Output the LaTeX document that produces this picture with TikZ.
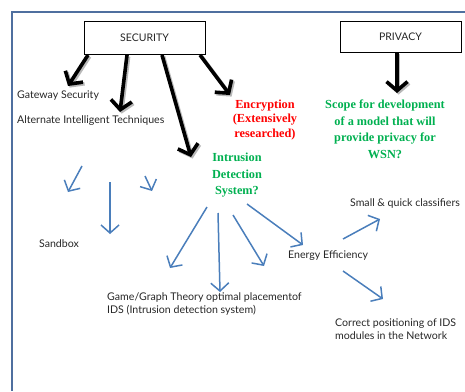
\documentclass[tikz,border=0pt]{standalone}
\usepackage{fontspec}
\setmainfont{Lato}
\newfontfamily\serifb{Liberation Serif}
\usetikzlibrary{arrows.meta}
\definecolor{framecol}{HTML}{4F6F9F}
\definecolor{bluearr}{HTML}{4A7EBB}
\definecolor{redtxt}{HTML}{FF0000}
\definecolor{greentxt}{HTML}{00B050}
\definecolor{txtcol}{HTML}{262626}
\tikzset{
  topbox/.style={draw=black, line width=1pt, inner sep=0pt, font=\fontsize{10.5}{12}\selectfont, text=txtcol},
  lbl/.style={inner sep=0pt, font=\fontsize{10.6}{12.5}\selectfont, text=txtcol, align=left},
  redlbl/.style={inner sep=0pt, font=\serifb\bfseries\fontsize{12.3}{14.5}\selectfont, text=redtxt, align=center},
  greenlbl/.style={inner sep=0pt, font=\serifb\bfseries\fontsize{12.3}{16.5}\selectfont, text=greentxt, align=center},
  bigarrow/.style={line width=3.6pt, -{Straight Barb[length=9pt,width=21pt]},
     preaction={draw=gray!55, line width=3.6pt, -{Straight Barb[length=9pt,width=21pt]}, transform canvas={shift={(1.6pt,-1.6pt)}}}},
  bluearrow/.style={draw=bluearr, line width=1.5pt, -{Straight Barb[length=8pt,width=18pt]}},
}
\begin{document}
\begin{tikzpicture}[x=1pt,y=-1pt]
\useasboundingbox (0,0) rectangle (465,391);
\draw[framecol, line width=1.6pt] (465,12) -- (12,12) -- (12,391);

\node[topbox, minimum width=121pt, minimum height=33pt] (sec) at (144.5,37.5) {SECURITY\hspace{30pt}};
\node[topbox, minimum width=121pt, minimum height=31pt] (priv) at (400.5,36.5) {PRIVACY\hspace{28pt}};

\node[lbl, anchor=west] (gate) at (17,96) {Gateway Security};
\node[lbl, anchor=west] (alt) at (17,121) {Alternate Intelligent Techniques};
\node[redlbl] (enc) at (265,120) {Encryption\\(Extensively\\researched)};
\node[greenlbl] (scope) at (385,129.5) {Scope for development\\of a model that will\\provide privacy for\\WSN?};
\node[greenlbl] (ids) at (237,175.5) {Intrusion\\Detection\\System?};
\node[lbl] (sand) at (59,244) {Sandbox};
\node[lbl, anchor=west] (energy) at (288,256) {Energy Efficiency};
\node[lbl] (small) at (405,204) {Small \& quick classifiers};
\node[lbl, anchor=west] (correct) at (335,329) {Correct positioning of IDS\\modules in the Network};
\node[lbl, anchor=west] (game) at (107,304) {Game/Graph Theory optimal placementof\\IDS (Intrusion detection system)};

% black arrows
\coordinate (s1) at (88,55);  \coordinate (t1) at (68,86);
\coordinate (s2) at (127,55); \coordinate (t2) at (120,112);
\coordinate (s3) at (162,55); \coordinate (t3) at (191,157);
\coordinate (s4) at (200,55); \coordinate (t4) at (230,95);
\coordinate (s5) at (397,52); \coordinate (t5) at (397,93);
\draw[bigarrow] (s1) -- (t1);
\draw[bigarrow] (s2) -- (t2);
\draw[bigarrow] (s3) -- (t3);
\draw[bigarrow] (s4) -- (t4);
\draw[bigarrow] (s5) -- (t5);

% blue arrows
\coordinate (b1s) at (82,166);  \coordinate (b1t) at (68,192);
\coordinate (b2s) at (110,182); \coordinate (b2t) at (110,234);
\coordinate (b3s) at (145,176); \coordinate (b3t) at (152,191);
\coordinate (b4s) at (207,207); \coordinate (b4t) at (170,268);
\coordinate (b5s) at (218,213); \coordinate (b5t) at (220,292);
\coordinate (b6s) at (233,215); \coordinate (b6t) at (264,266);
\coordinate (b7s) at (247,204); \coordinate (b7t) at (303,245);
\coordinate (b8s) at (343,239); \coordinate (b8t) at (380,219);
\coordinate (b9s) at (343,271); \coordinate (b9t) at (383,299);
\foreach \i in {1,...,9} \draw[bluearrow] (b\i s) -- (b\i t);
\end{tikzpicture}
\end{document}
